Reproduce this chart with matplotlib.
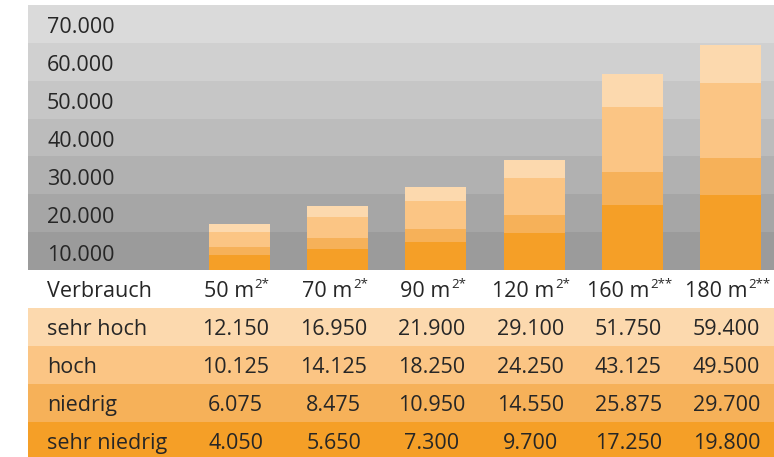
import matplotlib.pyplot as plt
from matplotlib.transforms import blended_transform_factory, offset_copy

plt.rcParams["font.family"] = ["Open Sans", "DejaVu Sans"]

# Daten
flaechen = ["50 m", "70 m", "90 m", "120 m", "160 m", "180 m"]
hochzahlen = ["2*", "2*", "2*", "2*", "2**", "2**"]
stufen = ["sehr hoch", "hoch", "niedrig", "sehr niedrig"]
sehr_hoch = [12150, 16950, 21900, 29100, 51750, 59400]
hoch = [10125, 14125, 18250, 24250, 43125, 49500]
niedrig = [6075, 8475, 10950, 14550, 25875, 29700]
sehr_niedrig = [4050, 5650, 7300, 9700, 17250, 19800]
werte = [sehr_hoch, hoch, niedrig, sehr_niedrig]
y_ticks = [10000, 20000, 30000, 40000, 50000, 60000, 70000]

farben = ["#fcd9ae", "#fbc584", "#f6b159", "#f59f27"]
band_farben = ["#9b9b9b", "#a6a6a6", "#b1b1b1", "#bcbcbc", "#c6c6c6", "#d0d0d0", "#dadada"]
text_farbe = "#262626"
fs = 15.5
fs_hoch = 9.5


def fmt(v):
    return f"{v:,}".replace(",", ".")


W, H = 774, 457
fig = plt.figure(figsize=(W / 100, H / 100), dpi=100)
renderer = fig.canvas.get_renderer()

left, right = 28, 774
x0, dx = 239.5, 98.2
xmin = (left - x0) / dx
xmax = (right - x0) / dx

# Diagramm
ax = fig.add_axes([left / W, (H - 270) / H, (right - left) / W, 265 / H])
ax.set_xlim(xmin, xmax)
ax.set_ylim(0, 70000)
ax.axis("off")
for k, c in enumerate(band_farben):
    ax.axhspan(k * 10000, (k + 1) * 10000, color=c, lw=0, zorder=0)

trans = offset_copy(blended_transform_factory(fig.transFigure, ax.transData),
                    fig=fig, y=-6.8, units="points")
for t in y_ticks:
    ax.text(47 / W, t - 5000, fmt(t), transform=trans, ha="left", va="baseline",
            fontsize=fs, color=text_farbe)

xs = list(range(len(flaechen)))
for serie, c in zip(werte, farben):
    ax.bar(xs, serie, width=0.62, color=c, lw=0, zorder=2)

# Tabelle
tab = fig.add_axes([left / W, (H - 460) / H, (right - left) / W, 190 / H])
tab.set_xlim(xmin, xmax)
tab.set_ylim(5, 0)
tab.axis("off")
for r, c in enumerate(farben):
    tab.axhspan(r + 1, r + 2, color=c, lw=0)

ttrans = offset_copy(blended_transform_factory(fig.transFigure, tab.transData),
                     fig=fig, y=-5.8, units="points")
dtrans = offset_copy(tab.transData, fig=fig, y=-5.8, units="points")

tab.text(47 / W, 0.5, "Verbrauch", transform=ttrans, ha="left", va="baseline",
         fontsize=fs, color=text_farbe)
for i, (f, n) in enumerate(zip(flaechen, hochzahlen)):
    haupt = tab.text(i, 0.5, f, transform=dtrans, ha="left", va="baseline",
                     fontsize=fs, color=text_farbe)
    klein = tab.annotate(n, xy=(1, 0), xycoords=haupt, xytext=(0.6, 10),
                         textcoords="offset points", ha="left", va="baseline",
                         fontsize=fs_hoch, color=text_farbe)
    w1 = haupt.get_window_extent(renderer).width
    w2 = klein.get_window_extent(renderer).width
    gesamt = (w1 + w2 + 1) * 72 / 100
    haupt.set_transform(offset_copy(dtrans, fig=fig, x=-gesamt / 2 - 2, units="points"))

for r, (name, serie) in enumerate(zip(stufen, werte)):
    tab.text(47 / W, r + 1.5, name, transform=ttrans, ha="left", va="baseline",
             fontsize=fs, color=text_farbe)
    for i, v in enumerate(serie):
        tab.text(i - 0.04, r + 1.5, fmt(v), transform=dtrans, ha="center",
                 va="baseline", fontsize=fs, color=text_farbe)

fig.savefig("out.png", dpi=100)
